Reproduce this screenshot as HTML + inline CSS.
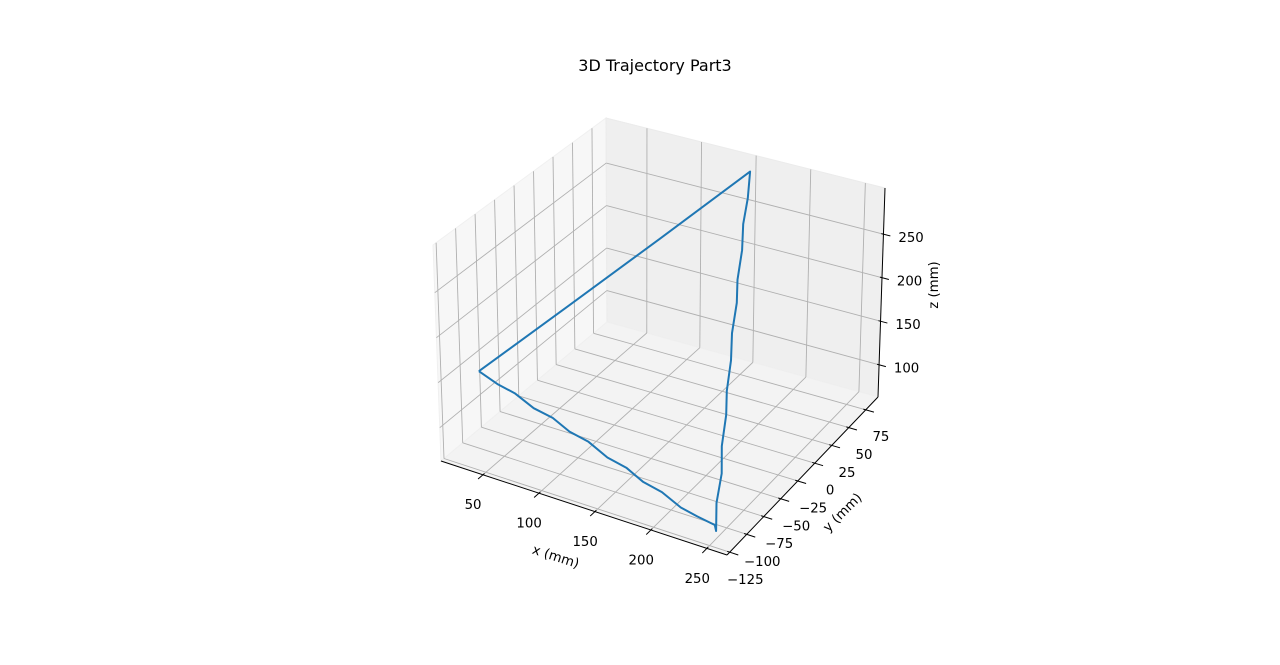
<!DOCTYPE html>
<html><head><meta charset="utf-8"><title>3D Trajectory Part3</title>
<style>html,body{margin:0;padding:0;background:#fff}svg text{font-family:"DejaVu Sans","Liberation Sans",sans-serif}</style>
</head><body>
<svg id="chart" width="1280" height="660" viewBox="0 0 1280 660" xmlns="http://www.w3.org/2000/svg">
<rect width="1280" height="660" fill="#fff"/>
<text x="655" y="71" font-size="16" text-anchor="middle">3D Trajectory Part3</text>
<g id="panes"></g><g id="grid"></g><g id="axes"></g><g id="series"></g>
<text x="556" y="561" font-size="13.3" text-anchor="middle" transform="rotate(18 556 556)">x (mm)</text>
<text x="842" y="517" font-size="13.3" text-anchor="middle" transform="rotate(-45 842 512)">y (mm)</text>
<text x="943" y="290" font-size="13.3" text-anchor="middle" transform="rotate(-90 938 290)">z (mm)</text>
</svg>
<script>
const xTicks = [50, 100, 150, 200, 250];
const yTicks = [-125, -100, -75, -50, -25, 0, 25, 50, 75];
const zTicks = [100, 150, 200, 250];
const xLim = [12.5, 268];
const yLim = [-129, 93];
const zLim = [63, 303];
const trajX = [25, 67.3, 109.7, 152, 159.5, 166.1, 173.6, 181.1, 187.7, 195.2, 202.8, 210.3, 216.9, 224.4, 231.9, 238.5, 246, 243, 228.3, 212.9, 195.2, 177.5, 162.0, 144.3, 126.7, 109.0, 93.5, 75.8, 58.2, 42.7, 25];
const trajY = [-94, -35.3, 23.3, 82, 68, 52, 39.5, 22, 11, -7, -20, -37.5, -48.5, -66.5, -78.5, -96.5, -109, -106, -107.8, -106.8, -105.6, -104.4, -103.3, -102.1, -100.9, -99.7, -98.7, -97.5, -96.3, -95.2, -94];
const trajZ = [144, 193.7, 243.3, 293, 274.8, 258.8, 240.6, 222.3, 206.4, 188.1, 169.9, 151.6, 135.7, 117.4, 99.2, 83.2, 65, 68, 73, 76, 85, 88.5, 97, 100.5, 110, 113.5, 122, 125, 134, 137, 144];

const C = {c000:[441,461],c100:[727,555],c010:[607,322],c110:[878,397],
           c001:[433,245],c101:[729,333],c011:[606,118],c111:[885,188]};
function P(x,y,z){
  const u=(x-xLim[0])/(xLim[1]-xLim[0]), v=(y-yLim[0])/(yLim[1]-yLim[0]), w=(z-zLim[0])/(zLim[1]-zLim[0]);
  let px=0,py=0;
  for(const a of [0,1])for(const b of [0,1])for(const c of [0,1]){
    const wt=(a?u:1-u)*(b?v:1-v)*(c?w:1-w), p=C['c'+a+b+c];
    px+=wt*p[0]; py+=wt*p[1];
  }
  return [px,py];
}
const NS='http://www.w3.org/2000/svg';
function mk(tag,parent,attrs){const e=document.createElementNS(NS,tag);for(const k in attrs)e.setAttribute(k,attrs[k]);document.getElementById(parent).appendChild(e);return e;}
function poly(pts){return pts.map(p=>p[0].toFixed(1)+','+p[1].toFixed(1)).join(' ');}
const [x0,x1]=xLim,[y0,y1]=yLim,[z0,z1]=zLim;
let e;
e=mk('polygon','panes',{points:poly([P(x0,y0,z0),P(x0,y1,z0),P(x0,y1,z1),P(x0,y0,z1)]),fill:'#f7f7f7',stroke:'#f0f0f0'});


e=mk('polygon','panes',{points:poly([P(x0,y1,z0),P(x1,y1,z0),P(x1,y1,z1),P(x0,y1,z1)]),fill:'#efefef',stroke:'#ebebeb'});


e=mk('polygon','panes',{points:poly([P(x0,y0,z0),P(x1,y0,z0),P(x1,y1,z0),P(x0,y1,z0)]),fill:'#f3f3f3',stroke:'#efefef'});


function gl(a,b,name){const l=mk('line','grid',{x1:a[0],y1:a[1],x2:b[0],y2:b[1],stroke:'#b0b0b0','stroke-width':0.9});

}
xTicks.forEach(t=>{gl(P(t,y0,z0),P(t,y1,z0),'x-grid-floor');gl(P(t,y1,z0),P(t,y1,z1),'x-grid-back');});
yTicks.forEach(t=>{gl(P(x1,t,z0),P(x0,t,z0),'y-grid-floor');gl(P(x0,t,z0),P(x0,t,z1),'y-grid-left');});
zTicks.forEach(t=>{gl(P(x0,y0,t),P(x0,y1,t),'z-grid-left');gl(P(x0,y1,t),P(x1,y1,t),'z-grid-back');});
function al(a,b,name){const l=mk('line','axes',{x1:a[0],y1:a[1],x2:b[0],y2:b[1],stroke:'#000','stroke-width':1});

}
al(P(x0,y0,z0),P(x1,y0,z0),'x-axis-line');
al(P(x1,y0,z0),P(x1,y1,z0),'y-axis-line');
al(P(x1,y1,z0),P(x1,y1,z1),'z-axis-line');
function lab(x,y,s,anchor,name){const t=mk('text','axes',{x:x,y:y,'font-size':13.3,'text-anchor':anchor});t.textContent=s;

}
const dy=(y1-y0)*0.03, dx=(x1-x0)*0.03, dz=(x1-x0)*0.025;
xTicks.forEach(t=>{const a=P(t,y0+dy*0.3,z0),b=P(t,y0-dy,z0);al(a,b,'x-tick');lab(b[0]-5,b[1]+30,String(t),'middle','x-tick-label');});
yTicks.forEach(t=>{const a=P(x1-dx*0.3,t,z0),b=P(x1+dx,t,z0);al(a,b,'y-tick');lab(b[0]+7,b[1]+29,String(t).replace('-','\u2212'),'middle','y-tick-label');});
zTicks.forEach(t=>{const a=P(x1-dz*0.3,y1,t),b=P(x1+dz,y1,t);al(a,b,'z-tick');lab(b[0]+8,b[1]+6,String(t),'start','z-tick-label');});
const pts=trajX.map((x,i)=>P(x,trajY[i],trajZ[i]));
e=mk('polyline','series',{points:poly(pts),fill:'none',stroke:'#1f77b4','stroke-width':2,'stroke-linejoin':'round'});


</script>
</body></html>
